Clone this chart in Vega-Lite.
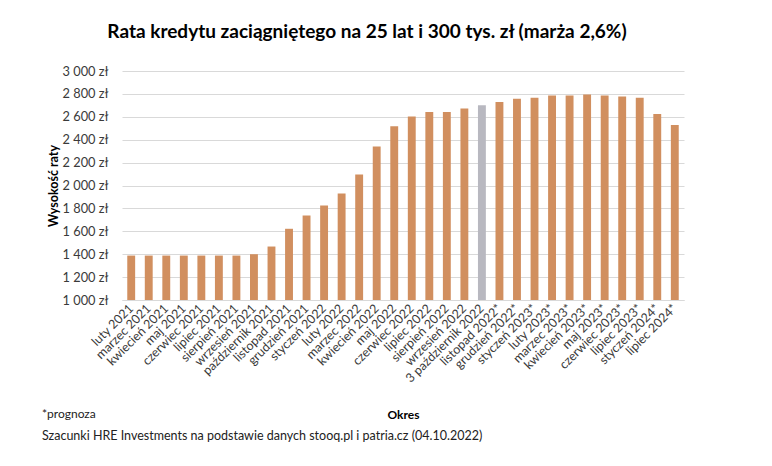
{
  "$schema": "https://vega.github.io/schema/vega-lite/v6.json",
  "width": 562,
  "height": 229,
  "autosize": {"type": "none"},
  "padding": {"left": 122, "top": 71, "right": 88, "bottom": 166},
  "background": "white",
  "config": {
    "font": "Lato",
    "view": {"stroke": null},
    "axis": {"labelFont": "Lato", "titleFont": "Lato"}
  },
  "title": {
    "text": "Rata kredytu zaciągniętego na 25 lat i 300 tys. zł (marża 2,6%)",
    "fontSize": 19,
    "fontWeight": "bold",
    "font": "Lato",
    "color": "#000000",
    "anchor": "middle",
    "dx": -36,
    "offset": 23
  },
  "layer": [
    {
      "data": {
        "values": [
          {"okres": "luty 2021", "rata": 1388, "typ": "dane"},
          {"okres": "marzec 2021", "rata": 1388, "typ": "dane"},
          {"okres": "kwiecień 2021", "rata": 1388, "typ": "dane"},
          {"okres": "maj 2021", "rata": 1388, "typ": "dane"},
          {"okres": "czerwiec 2021", "rata": 1388, "typ": "dane"},
          {"okres": "lipiec 2021", "rata": 1388, "typ": "dane"},
          {"okres": "sierpień 2021", "rata": 1388, "typ": "dane"},
          {"okres": "wrzesień 2021", "rata": 1400, "typ": "dane"},
          {"okres": "październik 2021", "rata": 1467, "typ": "dane"},
          {"okres": "listopad 2021", "rata": 1622, "typ": "dane"},
          {"okres": "grudzień 2021", "rata": 1738, "typ": "dane"},
          {"okres": "styczeń 2022", "rata": 1826, "typ": "dane"},
          {"okres": "luty 2022", "rata": 1930, "typ": "dane"},
          {"okres": "marzec 2022", "rata": 2096, "typ": "dane"},
          {"okres": "kwiecień 2022", "rata": 2340, "typ": "dane"},
          {"okres": "maj 2022", "rata": 2517, "typ": "dane"},
          {"okres": "czerwiec 2022", "rata": 2603, "typ": "dane"},
          {"okres": "lipiec 2022", "rata": 2641, "typ": "dane"},
          {"okres": "sierpień 2022", "rata": 2641, "typ": "dane"},
          {"okres": "wrzesień 2022", "rata": 2673, "typ": "dane"},
          {"okres": "3 październik 2022", "rata": 2700, "typ": "obecna"},
          {"okres": "listopad 2022*", "rata": 2729, "typ": "dane"},
          {"okres": "grudzień 2022*", "rata": 2758, "typ": "dane"},
          {"okres": "styczeń 2023*", "rata": 2767, "typ": "dane"},
          {"okres": "luty 2023*", "rata": 2787, "typ": "dane"},
          {"okres": "marzec 2023*", "rata": 2787, "typ": "dane"},
          {"okres": "kwiecień 2023*", "rata": 2795, "typ": "dane"},
          {"okres": "maj 2023*", "rata": 2787, "typ": "dane"},
          {"okres": "czerwiec 2023*", "rata": 2778, "typ": "dane"},
          {"okres": "lipiec 2023*", "rata": 2767, "typ": "dane"},
          {"okres": "styczeń 2024*", "rata": 2624, "typ": "dane"},
          {"okres": "lipiec 2024*", "rata": 2528, "typ": "dane"}
        ]
      },
      "mark": {"type": "bar"},
      "encoding": {
        "x": {
          "field": "okres",
          "type": "nominal",
          "sort": null,
          "scale": {"paddingInner": 0.55, "paddingOuter": 0.3},
          "axis": {
            "title": "Okres",
            "titleFontSize": 12,
            "titleFontWeight": "bold",
            "titleColor": "#000000",
            "titleBaseline": "alphabetic",
            "titleY": 118,
            "labelAngle": -45,
            "labelAlign": "right",
            "labelBaseline": "middle",
            "labelFontSize": 12.5,
            "labelColor": "#3a3a3a",
            "labelPadding": 6,
            "labelLimit": 0,
            "ticks": false,
            "domainColor": "#d9d9d9",
            "labelOverlap": false
          }
        },
        "y": {
          "field": "rata",
          "type": "quantitative",
          "scale": {"domain": [1000, 3000], "zero": false, "nice": false, "clamp": true},
          "axis": {
            "title": "Wysokość raty",
            "titleFontSize": 12.5,
            "titleFontWeight": "bold",
            "titleColor": "#000000",
            "titlePadding": 2,
            "values": [1000, 1200, 1400, 1600, 1800, 2000, 2200, 2400, 2600, 2800, 3000],
            "labelExpr": "replace(format(datum.value, ',.0f'), ',', ' ') + ' zł'",
            "labelFontSize": 12.8,
            "labelColor": "#3a3a3a",
            "labelPadding": 14,
            "ticks": false,
            "domain": false,
            "gridColor": "#d9d9d9"
          }
        },
        "y2": {"datum": 1000},
        "color": {
          "field": "typ",
          "type": "nominal",
          "scale": {"domain": ["dane", "obecna"], "range": ["#D18F5F", "#B8B8C0"]},
          "legend": null
        }
      }
    },
    {
      "data": {"values": [{"uwaga": "*prognoza"}]},
      "mark": {"type": "text", "align": "left", "baseline": "alphabetic", "fontSize": 12, "color": "#222222"},
      "encoding": {"text": {"field": "uwaga"}, "x": {"value": -80}, "y": {"value": 347}}
    },
    {
      "data": {"values": [{"zrodlo": "Szacunki HRE Investments na podstawie danych stooq.pl i patria.cz (04.10.2022)"}]},
      "mark": {"type": "text", "align": "left", "baseline": "alphabetic", "fontSize": 12.5, "color": "#222222"},
      "encoding": {"text": {"field": "zrodlo"}, "x": {"value": -80}, "y": {"value": 369}}
    }
  ]
}
